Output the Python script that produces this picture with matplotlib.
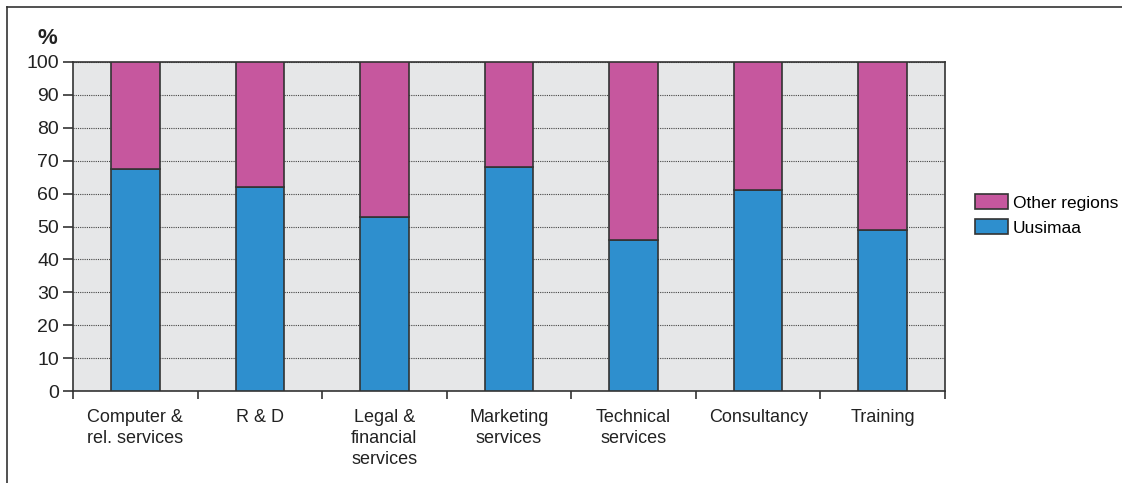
import matplotlib
matplotlib.use('Agg')
import matplotlib.pyplot as plt
from matplotlib.lines import Line2D
import numpy as np

plt.rcParams['font.family'] = ['Liberation Sans', 'DejaVu Sans']

categories = ['Computer &\nrel. services', 'R & D', 'Legal &\nfinancial\nservices',
              'Marketing\nservices', 'Technical\nservices', 'Consultancy', 'Training']
uusimaa = [67.5, 62, 53, 68, 46, 61, 49]
other_regions = [100 - v for v in uusimaa]

blue = '#2E8FCE'
magenta = '#C6579E'
edge = '#333333'
txt = '#222222'

fig = plt.figure(figsize=(11.22, 4.83), dpi=100)
ax = fig.add_axes([73 / 1122, 1 - 391 / 483, 872 / 1122, 329 / 483])
ax.set_facecolor('#E6E7E8')

x = np.arange(len(categories))
w = 0.39
ax.bar(x, uusimaa, w, color=blue, edgecolor=edge, linewidth=1.2, label='Uusimaa', zorder=3)
ax.bar(x, other_regions, w, bottom=uusimaa, color=magenta, edgecolor=edge, linewidth=1.2,
       label='Other regions', zorder=3)

ax.set_xlim(-0.5, len(categories) - 0.5)
ax.set_ylim(0, 100)
ax.set_yticks(np.arange(0, 101, 10))
ax.yaxis.grid(True, linestyle=(0, (1, 1)), color='#444444', linewidth=0.8, zorder=1)

# ticks sit between categories, labels centred under the bars
ax.set_xticks(np.arange(-0.5, len(categories), 1))
ax.set_xticklabels([])
ax.set_xticks(x, minor=True)
ax.set_xticklabels(categories, minor=True)
ax.tick_params(axis='x', which='minor', length=0, pad=13, labelsize=13, colors=txt)
ax.tick_params(axis='x', which='major', length=6, width=1.2, color=edge, direction='out')
ax.tick_params(axis='y', length=7, width=1.2, color=edge, labelsize=14, labelcolor=txt, pad=3)
for t in ax.get_xticklabels(minor=True):
    t.set_linespacing(1.3)

for s in ax.spines.values():
    s.set_color(edge)
    s.set_linewidth(1.2)

ax.text(-0.029, 1.04, '%', transform=ax.transAxes, fontsize=16, fontweight='bold',
        ha='center', va='bottom', color=txt)

h, l = ax.get_legend_handles_labels()
ax.legend(h[::-1], l[::-1], loc='center left', bbox_to_anchor=(1.026, 0.535), frameon=False,
          fontsize=12.5, handlelength=1.9, handleheight=0.9, handletextpad=0.3,
          labelspacing=0.5, borderaxespad=0)

# frame lines along the top and left of the figure
fig.add_artist(Line2D([7 / 1122, 1], [1 - 7 / 483, 1 - 7 / 483], color='#333333', linewidth=1.2))
fig.add_artist(Line2D([7 / 1122, 7 / 1122], [0, 1 - 7 / 483], color='#333333', linewidth=1.2))

fig.savefig('out.png', dpi=100, facecolor='white')
